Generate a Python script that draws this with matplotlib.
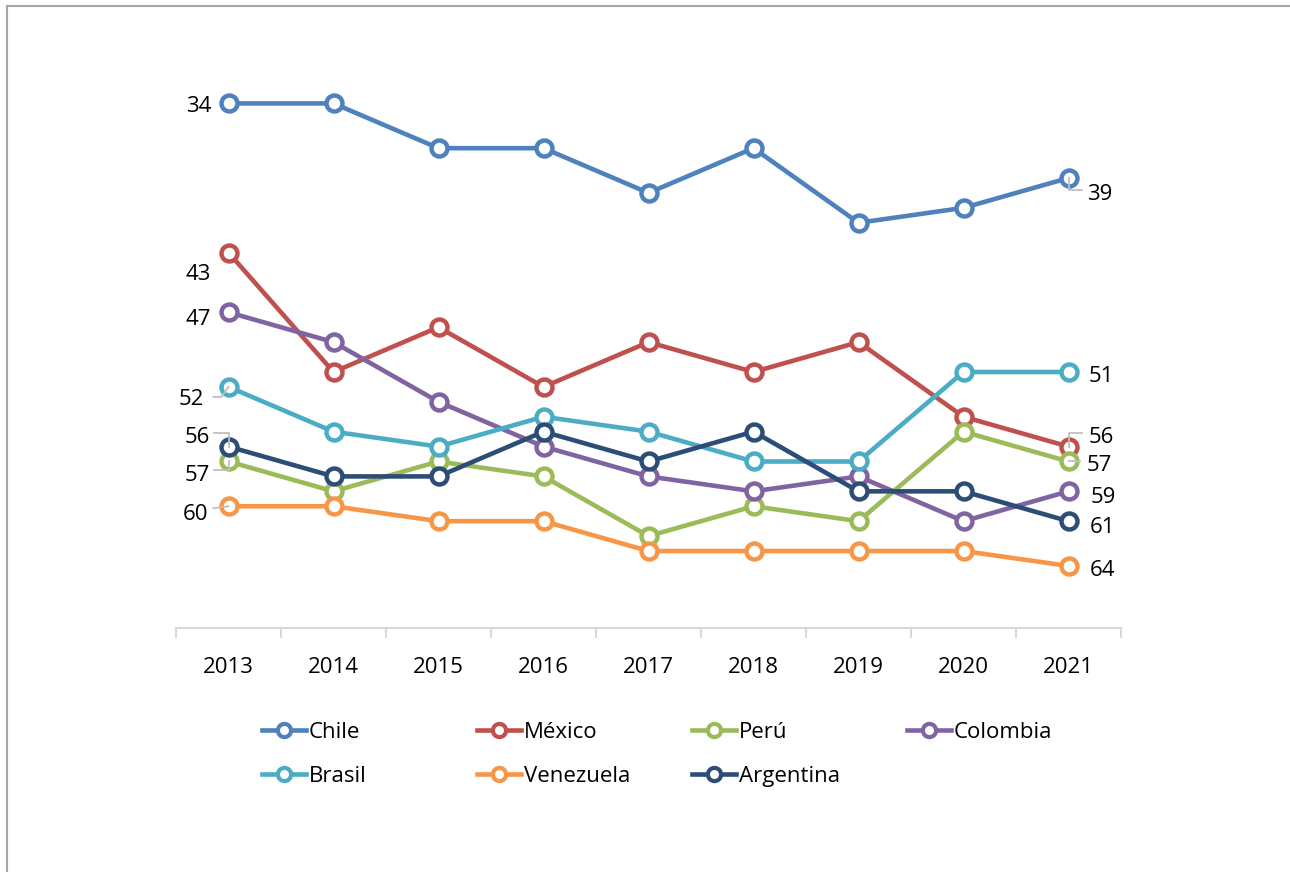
import matplotlib.pyplot as plt
from matplotlib.lines import Line2D
from matplotlib.transforms import IdentityTransform

plt.rcParams['font.family'] = ['Open Sans', 'DejaVu Sans']

years = ['2013', '2014', '2015', '2016', '2017', '2018', '2019', '2020', '2021']

chile = [33, 33, 36, 36, 39, 36, 41, 40, 38]
mexico = [43, 51, 48, 52, 49, 51, 49, 54, 56]
peru = [57, 59, 57, 58, 62, 60, 61, 55, 57]
colombia = [47, 49, 53, 56, 58, 59, 58, 61, 59]
brasil = [52, 55, 56, 54, 55, 57, 57, 51, 51]
venezuela = [60, 60, 61, 61, 63, 63, 63, 63, 64]
argentina = [56, 58, 58, 55, 57, 55, 59, 59, 61]

names = ['Chile', 'México', 'Perú', 'Colombia', 'Brasil', 'Venezuela', 'Argentina']
series = [chile, mexico, peru, colombia, brasil, venezuela, argentina]
colors = ['#4F81BD', '#C0504D', '#9BBB59', '#8064A2', '#4BACC6', '#F79646', '#2C4D75']

# labels shown at the ends of each line
first_labels = ['34', '43', '57', '47', '52', '60', '56']
last_labels = ['39', '56', '57', '59', '51', '64', '61']
# label offsets in pixels (dx, dy up)
first_off = [(-17, -3), (-18, -22), (-18, -14), (-18, -7), (-24, -13), (-20, -8), (-18, 9)]
last_off = [(19, -16), (20, 9), (18, -4), (22, -6), (20, -5), (21, -5), (21, -6)]

# leader lines: (series, end, pixel offsets (dx, dy down))
leaders = [
    (4, 0, [(0, 0), (-7, 10), (-15, 10)]),
    (6, 0, [(0, 0), (0, -14), (-15, -14)]),
    (2, 0, [(0, 0), (0, 9), (-15, 9)]),
    (5, 0, [(0, 0), (-15, 2)]),
    (0, 8, [(0, 0), (0, 12), (13, 12)]),
    (1, 8, [(0, 0), (0, -14), (13, -14)]),
    (2, 8, [(0, 0), (11, 0)]),
]

fig = plt.figure(figsize=(12.9, 8.72), dpi=100)
ax = fig.add_axes([176 / 1290, 244 / 872, 945 / 1290, (628 - 60) / 872])

x = list(range(len(years)))
for vals, col, name in zip(series, colors, names):
    ax.plot(x, vals, color=col, lw=3.3, marker='o', ms=11.5, mfc='white',
            mec=col, mew=3.2, label=name, solid_joinstyle='round', zorder=3)

ax.set_xlim(-0.5, 8.5)
ax.set_ylim(68.16, 30.09)

for i, vals in enumerate(series):
    ax.annotate(first_labels[i], (0, vals[0]), xytext=first_off[i],
                textcoords='offset pixels', ha='right', va='center', fontsize=16)
    ax.annotate(last_labels[i], (8, vals[-1]), xytext=last_off[i],
                textcoords='offset pixels', ha='left', va='center', fontsize=16)

for s_i, xi, pts in leaders:
    px, py = ax.transData.transform((xi, series[s_i][xi]))
    fig.add_artist(Line2D([px + dx for dx, dy in pts], [py - dy for dx, dy in pts],
                          color='#BFBFBF', lw=1.3, transform=IdentityTransform(), zorder=1))

for s in ['top', 'right', 'left']:
    ax.spines[s].set_visible(False)
ax.spines['bottom'].set_color('#D9D9D9')
ax.spines['bottom'].set_linewidth(1.5)
ax.set_yticks([])
ax.set_xticks(x)
ax.set_xticklabels(years, fontsize=16)
ax.set_xticks([i - 0.5 for i in range(len(years) + 1)], minor=True)
ax.tick_params(axis='x', which='major', length=0, pad=21)
ax.tick_params(axis='x', which='minor', length=7, width=1.5, color='#D9D9D9')

# legend, one entry per slot
for k, (name, col) in enumerate(zip(names, colors)):
    r, c = divmod(k, 4)
    h = Line2D([], [], color=col, lw=3.3, marker='o', ms=9.5, mfc='white', mec=col, mew=3)
    fig.legend([h], [name], loc='center left', frameon=False, fontsize=16,
               handlelength=2.0, handletextpad=0.1, borderpad=0, borderaxespad=0,
               bbox_to_anchor=((262 + 215 * c) / 1290, 1 - (732 + 44 * r) / 872))

# outer frame (top and left edges visible)
fig.add_artist(Line2D([6.5 / 1290, 6.5 / 1290], [0, 1 - 6.5 / 872], color='#A6A6A6', lw=1.5))
fig.add_artist(Line2D([6.5 / 1290, 1], [1 - 6.5 / 872, 1 - 6.5 / 872], color='#A6A6A6', lw=1.5))

fig.savefig('out.png', dpi=100)
